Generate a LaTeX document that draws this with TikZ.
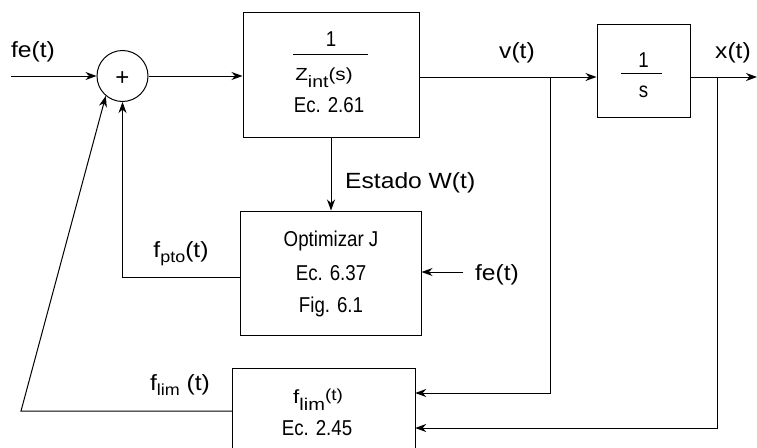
\documentclass[tikz,border=0pt]{standalone}
\usepackage{fontspec}
\setmainfont{Liberation Sans}
\newfontfamily\labfont{Liberation Sans}[FakeStretch=1.12]
\newfontfamily\boxfont{Liberation Sans}[FakeStretch=0.87]
\newfontfamily\zfont{Liberation Sans}[FakeStretch=1.18]
\usetikzlibrary{arrows.meta}
\tikzset{
 blk/.style={draw, line width=1pt, inner sep=0pt},
 arr/.style={line width=1pt, -{Stealth[length=11pt,width=8pt,inset=3.5pt]}},
 ln/.style={line width=1pt},
 lab/.style={anchor=base, inner sep=0pt, font=\labfont\fontsize{22}{26}\selectfont},
 txt/.style={anchor=base, inner sep=0pt, font=\boxfont\fontsize{21.5}{24}\selectfont},
 ztxt/.style={anchor=base, inner sep=0pt, font=\zfont\fontsize{17.5}{20}\selectfont},
}
\newcommand{\subtx}[1]{\raisebox{-5pt}{\fontsize{16}{16}\selectfont #1}}
\newcommand{\subin}[1]{\raisebox{-7pt}{\fontsize{16.5}{16}\selectfont #1}}
\begin{document}
\begin{tikzpicture}[x=1pt,y=-1pt]
\useasboundingbox (0,0) rectangle (757,447);
% blocks
\node[blk, circle, minimum size=51pt] (sum) at (122.5,76) {};
\node[txt, font=\fontsize{24}{26}\selectfont] (plus) at (122.5,85) {+};
\node[blk, minimum width=176pt, minimum height=125pt] (box1) at (331,74.5) {};
\node[blk, minimum width=93pt, minimum height=93pt] (box2) at (643.5,70.5) {};
\node[blk, minimum width=181pt, minimum height=124pt] (box3) at (330.5,273) {};
\node[inner sep=0pt, minimum width=182pt, minimum height=80pt] (box4) at (324,409) {};
\draw[ln] (box4.south west) |- (box4.north east) -- (box4.south east);
% block texts
\node[txt] (b1n) at (331,46) {1};
\draw[ln] (293,54) -- (368,54);
\node[ztxt] (b1d) at (324,80) {Z\subin{int}(s)};
\node[txt] (b1e) at (329,112) {Ec. 2.61};
\node[txt] (b2n) at (643.5,67) {1};
\draw[ln] (621,73) -- (662,73);
\node[txt] (b2d) at (643.5,97) {s};
\node[txt] (b3a) at (331,246) {Optimizar J};
\node[txt] (b3b) at (331,280) {Ec. 6.37};
\node[txt] (b3c) at (331,312) {Fig. 6.1};
\node[ztxt, font=\zfont\fontsize{19}{20}\selectfont] (b4a) at (318,403) {f\raisebox{-7pt}{\fontsize{17}{17}\selectfont lim}\raisebox{3pt}{\fontsize{16}{16}\selectfont (t)}};
\node[txt] (b4b) at (317,435) {Ec. 2.45};
% coordinates
\coordinate (in) at (11,76);
\coordinate (vb) at (550,77);
\coordinate (xb) at (717,77);
\coordinate (out) at (757,77);
\coordinate (vd) at (550,393);
\coordinate (xd) at (717,428);
\coordinate (fe2s) at (463,272);
\coordinate (fl) at (21,411);
% connectors
\draw[arr] (in) -- (sum.west);
\draw[arr] (sum.east) -- (sum.east -| box1.west);
\draw[arr] (box1.east |- vb) -- (box2.west |- vb);
\draw[arr] (box2.east |- xb) -- (out);
\draw[arr] (vb) -- (vd) -- (box4.east |- vd);
\draw[arr] (xb) -- (xd) -- (box4.east |- xd);
\draw[arr] (box1.south) -- (box1.south |- box3.north);
\draw[arr] (fe2s) -- (box3.east |- fe2s);
\draw[arr] ([yshift=-4pt]box3.west) -| (sum.south);
\draw[arr] (box4.west |- fl) -- (fl) -- (sum.230);
% labels
\node[lab] (lfe) at (33,57) {fe(t)};
\node[lab] (lv) at (517,58) {v(t)};
\node[lab] (lx) at (733,58) {x(t)};
\node[lab, anchor=base west] (lest) at (345,188) {Estado W(t)};
\node[lab] (lpto) at (181,257) {f\subtx{pto}(t)};
\node[lab] (lfe2) at (497,280) {fe(t)};
\node[lab] (llim) at (180,390) {f\subtx{lim} (t)};
\end{tikzpicture}
\end{document}
